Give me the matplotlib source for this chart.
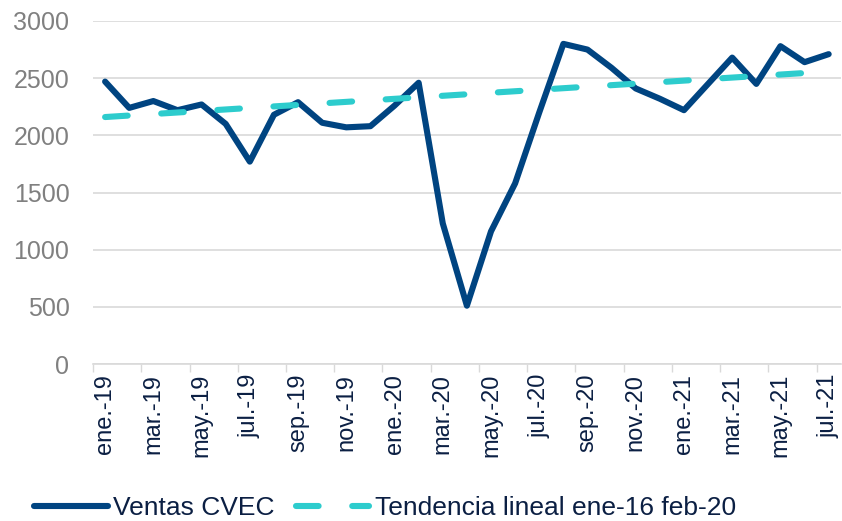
import matplotlib.pyplot as plt

plt.rcParams['font.family'] = ['Liberation Sans', 'DejaVu Sans']

months = ['ene.-19', 'feb.-19', 'mar.-19', 'abr.-19', 'may.-19', 'jun.-19', 'jul.-19', 'ago.-19',
          'sep.-19', 'oct.-19', 'nov.-19', 'dic.-19', 'ene.-20', 'feb.-20', 'mar.-20', 'abr.-20',
          'may.-20', 'jun.-20', 'jul.-20', 'ago.-20', 'sep.-20', 'oct.-20', 'nov.-20', 'dic.-20',
          'ene.-21', 'feb.-21', 'mar.-21', 'abr.-21', 'may.-21', 'jun.-21', 'jul.-21']
ventas = [2470, 2240, 2300, 2220, 2270, 2100, 1770, 2180, 2290, 2110, 2070, 2080,
          2260, 2460, 1230, 510, 1160, 1580, 2200, 2800, 2750, 2590, 2410, 2320,
          2220, 2450, 2680, 2450, 2780, 2640, 2710]
# linear trend, read at its two ends (ene.-19 and jun.-21)
trend_idx = [0, 29]
trend_val = [2160, 2545]

navy = '#004481'
aqua = '#2DCCCD'
text_dark = '#0B1F43'

fig = plt.figure(figsize=(8.42, 5.21), dpi=100)
ax = fig.add_axes([0.1105, 0.3013, 0.888, 0.6584])

x = list(range(len(months)))
ax.plot(x, ventas, color=navy, lw=4.4, solid_joinstyle='round', solid_capstyle='round',
        label='Ventas CVEC', zorder=3)
ax.plot(trend_idx, trend_val, color=aqua, lw=4.4, dashes=(3.7, 5.5), dash_capstyle='round',
        label='Tendencia lineal ene-16 feb-20', zorder=4)

ax.set_ylim(0, 3000)
ax.set_yticks(range(0, 3001, 500))
ax.set_xlim(-0.5, len(months) - 0.5)
ax.set_xticks(x[::2])
ax.set_xticklabels(months[::2], rotation=90, fontsize=17, color=text_dark)
ax.set_xticks([i - 0.5 for i in x[::2]], minor=True)
ax.tick_params(axis='x', which='major', length=0, pad=7)
ax.tick_params(axis='x', which='minor', length=6, width=1, color='#D9D9D9')
ax.tick_params(axis='y', length=0, labelsize=18, labelcolor='#808080', pad=17)

ax.grid(axis='y', color='#D9D9D9', lw=1.2)
ax.set_axisbelow(True)
for s in ['top', 'right', 'left']:
    ax.spines[s].set_visible(False)
ax.spines['bottom'].set_color('#D9D9D9')
ax.spines['bottom'].set_linewidth(1.2)

leg = fig.legend(loc='center', bbox_to_anchor=(0.457, 0.025), ncol=2, frameon=False,
                 fontsize=19, handlelength=2.8, handletextpad=0.2, columnspacing=0.8,
                 labelcolor=text_dark)

fig.savefig('out.png', dpi=100)
